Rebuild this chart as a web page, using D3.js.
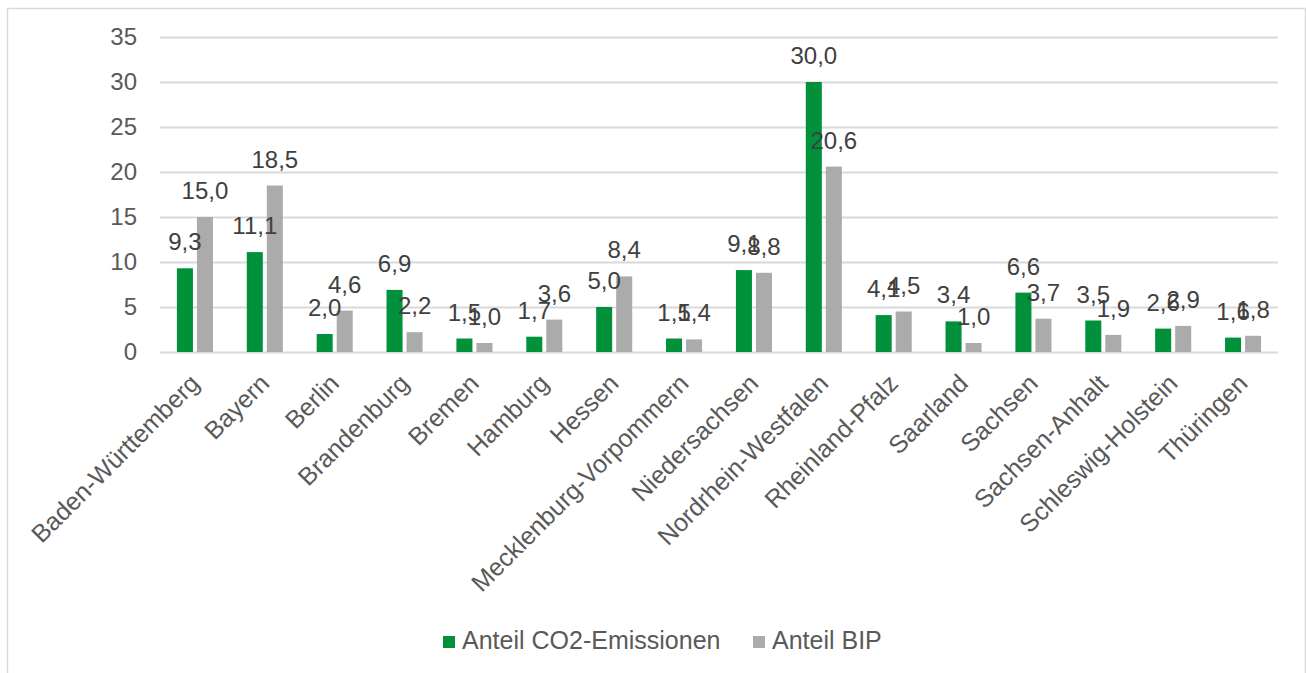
<!DOCTYPE html>
<html lang="de">
<head>
<meta charset="UTF-8">
<title>Anteil CO2-Emissionen und Anteil BIP nach Bundesland</title>
<script src="https://d3js.org/d3.v7.min.js"></script>
<style>
  html, body { margin: 0; padding: 0; background: #fff; }
  svg { display: block; font-family: "Liberation Sans", Arial, sans-serif; }
  .tick-label { fill: #595959; font-size: 24px; }
  .cat-label { fill: #595959; font-size: 25px; }
  .value-label { fill: #404040; font-size: 24px; }
  .legend-text { fill: #595959; font-size: 25px; }
</style>
</head>
<body>
<div id="chart"></div>
<script>
// Bundesländer
const laender = [
  "Baden-Württemberg", "Bayern", "Berlin", "Brandenburg", "Bremen", "Hamburg",
  "Hessen", "Mecklenburg-Vorpommern", "Niedersachsen", "Nordrhein-Westfalen",
  "Rheinland-Pfalz", "Saarland", "Sachsen", "Sachsen-Anhalt",
  "Schleswig-Holstein", "Thüringen"
];

// Anteil CO2-Emissionen (%)
const anteilCO2 = [9.3, 11.1, 2.0, 6.9, 1.5, 1.7, 5.0, 1.5, 9.1, 30.0, 4.1, 3.4, 6.6, 3.5, 2.6, 1.6];

// Anteil BIP (%)
const anteilBIP = [15.0, 18.5, 4.6, 2.2, 1.0, 3.6, 8.4, 1.4, 8.8, 20.6, 4.5, 1.0, 3.7, 1.9, 2.9, 1.8];

const yTicks = [0, 5, 10, 15, 20, 25, 30, 35];

const serien = [
  { key: "co2", name: "Anteil CO2-Emissionen", color: "#00913a", values: anteilCO2 },
  { key: "bip", name: "Anteil BIP", color: "#ababab", values: anteilBIP }
];

const W = 1306, H = 673;
const margin = { top: 37, right: 28, bottom: 321, left: 160 };
const width = W - margin.left - margin.right;
const height = H - margin.top - margin.bottom;

const fmt = v => v.toFixed(1).replace(".", ",");

const svgRoot = d3.select("#chart").append("svg")
  .attr("width", W)
  .attr("height", H);

// Rahmen um das Diagramm
svgRoot.append("rect")
  .attr("x", 7.5).attr("y", 8.5)
  .attr("width", 1298).attr("height", 700)
  .attr("fill", "none")
  .attr("stroke", "#d9d9d9")
  .attr("stroke-width", 1.5);

const svg = svgRoot.append("g")
  .attr("transform", `translate(${margin.left},${margin.top})`);

// Skalen
const x0 = d3.scaleBand()
  .domain(laender)
  .range([0, width])
  .paddingInner(0.484)
  .paddingOuter(0.242);

const x1 = d3.scaleBand()
  .domain(serien.map(s => s.key))
  .range([0, x0.bandwidth()])
  .paddingInner(0.2);

const y = d3.scaleLinear().domain([0, 35]).range([height, 0]);

// Gitterlinien + Y-Achse
const yAxis = svg.append("g")
  .call(d3.axisLeft(y).tickValues(yTicks).tickSize(-width).tickPadding(23).tickFormat(d => d));
yAxis.select(".domain").remove();
yAxis.selectAll(".tick line")
  .attr("stroke", "#d9d9d9")
  .attr("stroke-width", 2);
yAxis.selectAll(".tick text")
  .attr("class", "tick-label")
  .attr("font-family", null)
  .attr("font-size", null)
  .attr("fill", null);

// Balken
serien.forEach(s => {
  svg.append("g").selectAll("rect")
    .data(laender)
    .join("rect")
    .attr("x", d => x0(d) + x1(s.key))
    .attr("y", (d, i) => y(s.values[i]))
    .attr("width", x1.bandwidth())
    .attr("height", (d, i) => y(0) - y(s.values[i]))
    .attr("fill", s.color);
});

// Datenbeschriftungen
serien.forEach(s => {
  svg.append("g").selectAll("text")
    .data(laender)
    .join("text")
    .attr("class", "value-label")
    .attr("x", d => x0(d) + x1(s.key) + x1.bandwidth() / 2)
    .attr("y", (d, i) => y(s.values[i]) - 18)
    .attr("text-anchor", "middle")
    .text((d, i) => fmt(s.values[i]));
});

// X-Achse mit gedrehten Beschriftungen
const xAxis = svg.append("g")
  .attr("transform", `translate(0,${height})`)
  .call(d3.axisBottom(x0).tickSize(0).tickPadding(0));
xAxis.select(".domain").remove();
xAxis.selectAll(".tick text")
  .attr("class", "cat-label")
  .attr("font-family", null)
  .attr("font-size", null)
  .attr("fill", null)
  .attr("text-anchor", "end")
  .attr("dy", null)
  .attr("y", 0)
  .attr("transform", "translate(6,33) rotate(-45)");

// Legende
const legende = svgRoot.append("g").attr("transform", "translate(443,636)");
const legX = [0, 310];
serien.forEach((s, i) => {
  const g = legende.append("g").attr("transform", `translate(${legX[i]},0)`);
  g.append("rect").attr("width", 12).attr("height", 12).attr("fill", s.color);
  g.append("text")
    .attr("class", "legend-text")
    .attr("x", 19)
    .attr("y", 13)
    .text(s.name);
});
</script>
</body>
</html>
